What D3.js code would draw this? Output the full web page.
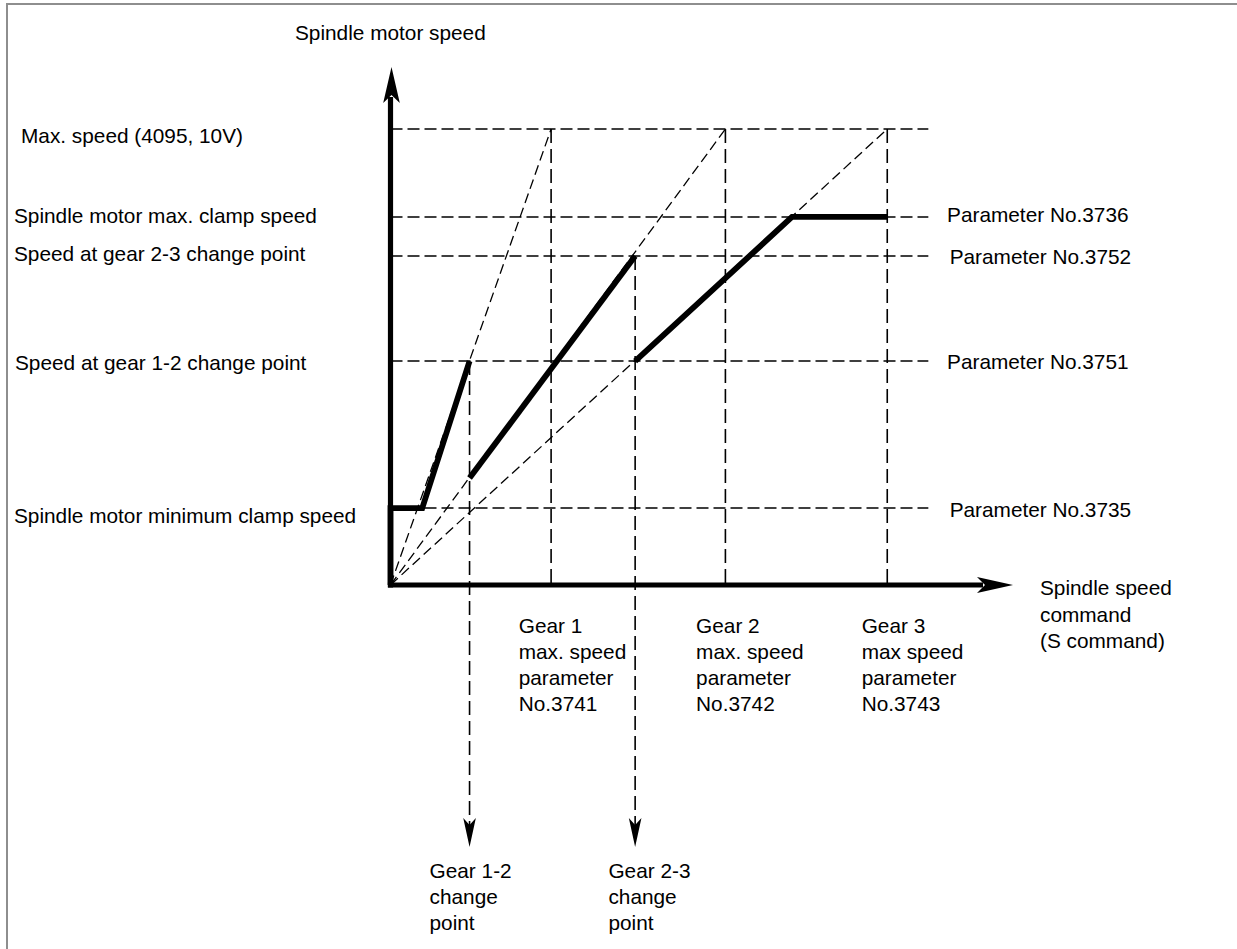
<!DOCTYPE html>
<html><head><meta charset="utf-8">
<script src="https://cdn.jsdelivr.net/npm/d3@7"></script>
<style>
html,body{margin:0;padding:0;background:#fff;}
svg{display:block;}
text{font-family:"Liberation Sans", Arial, Helvetica, sans-serif; font-size:20.8px; fill:#000;}
</style></head><body>
<svg id="chart" width="1237" height="949"></svg>
<script>
// ---------------- data ----------------
// motor speed levels (0..4095 = 0..10V)
const levelNames  = ["Max. speed (4095, 10V)", "Spindle motor max. clamp speed", "Speed at gear 2-3 change point", "Speed at gear 1-2 change point", "Spindle motor minimum clamp speed"];
const levelValues = [4095, 3305, 2954, 2011, 691];
const levelParams = ["", "Parameter No.3736", "Parameter No.3752", "Parameter No.3751", "Parameter No.3735"];
// spindle speed command (S command, % of axis length)
const gearMaxCmd     = [25.8, 53.8, 79.8];
const gearLabelLines = [["Gear 1","max. speed","parameter","No.3741"],["Gear 2","max. speed","parameter","No.3742"],["Gear 3","max speed","parameter","No.3743"]];
const changeCmd      = [12.7, 39.3];
const changeLevel    = [2011, 2954];
const changeLabels   = [["Gear 1-2","change","point"],["Gear 2-3","change","point"]];
// bold output curves [command, motor speed]
const curveGear1 = [[0,0],[0,691],[5.1,691],[12.7,2011]];
const curveGear2 = [[12.7,960],[39.3,2954]];
const curveGear3 = [[39.3,2011],[64.5,3305],[79.8,3305]];
const axisTitles = {y:"Spindle motor speed", x:["Spindle speed","command","(S command)"]};

// ---------------- layout ----------------
const W = 1237, H = 949;
const svg = d3.select("#chart");
const x = d3.scaleLinear().domain([0,100]).range([390.5,1013]);
const y = d3.scaleLinear().domain([0,4095]).range([585,129]);
const gridEnd = 86.4;           // horizontal guides end (command units)
const yAxisTop = 4652;          // arrow tip of the y axis
const changeArrowEnd = -2353;   // tip of the downward arrows
const leftLabelX   = [21,14,14,15,14];
const leftLabelDy  = [13.7,5.7,5,9,15];
const rightLabelDx = [0,18.7,21.3,18.7,21.3];
const rightLabelDy = [0,5.3,8,8.3,8.7];
const gearLabelDx  = [-32.4,-29.3,-25.6];
const changeLabelDx= [-40,-26.7];
const lineH = 26.1;

// frame
svg.append("path").attr("d",`M7,${H} L7,4 L${W},4`).attr("fill","none").attr("stroke","#8e8e8e").attr("stroke-width",2);

const g = svg.append("g");
const hd = "12,5", vd = "14,6", dd = "10,5";

// horizontal dashed guides
g.selectAll(".hg").data(levelValues).join("line")
  .attr("x1",x(0)).attr("x2",x(gridEnd))
  .attr("y1",d=>y(d)).attr("y2",d=>y(d))
  .attr("stroke","#000").attr("stroke-width",1.6).attr("stroke-dasharray",hd);

// vertical dashed at gear max
g.selectAll(".vg").data(gearMaxCmd).join("line")
  .attr("x1",d=>x(d)).attr("x2",d=>x(d))
  .attr("y1",y(4095)).attr("y2",y(0))
  .attr("stroke","#000").attr("stroke-width",1.6).attr("stroke-dasharray",vd);

// diagonal ratio lines
g.selectAll(".dg").data(gearMaxCmd).join("line")
  .attr("x1",x(0)).attr("y1",y(0))
  .attr("x2",d=>x(d)).attr("y2",y(4095))
  .attr("stroke","#000").attr("stroke-width",1.3).attr("stroke-dasharray",dd);

// arrowhead helper
function arrow(tx,ty,dir,L,Wd,notch){
  // dir: unit vector pointing to tip
  const [ux,uy]=dir, px=-uy, py=ux;
  const bx=tx-ux*L, by=ty-uy*L;
  const nx=tx-ux*(L-notch), ny=ty-uy*(L-notch);
  return `M${tx},${ty} L${bx+px*Wd},${by+py*Wd} L${nx},${ny} L${bx-px*Wd},${by-py*Wd} Z`;
}

// change-point vertical dashed with arrows
changeCmd.forEach((c,i)=>{
  const tipY = y(changeArrowEnd);
  g.append("line").attr("x1",x(c)).attr("x2",x(c))
    .attr("y1",y(changeLevel[i])).attr("y2",tipY-22)
    .attr("stroke","#000").attr("stroke-width",1.6).attr("stroke-dasharray",vd);
  g.append("path").attr("d",arrow(x(c),tipY,[0,1],29,6.3,7)).attr("fill","#000");
});

// bold curves
const line = d3.line().x(d=>x(d[0])).y(d=>y(d[1]));
[curveGear1,curveGear2,curveGear3].forEach(c=>{
  g.append("path").attr("d",line(c)).attr("fill","none").attr("stroke","#000")
   .attr("stroke-width",5.8).attr("stroke-linejoin","miter").attr("stroke-linecap","butt");
});

// axes
g.append("line").attr("x1",x(0)).attr("x2",x(0)).attr("y1",y(0)+2.5).attr("y2",y(yAxisTop)+30)
  .attr("stroke","#000").attr("stroke-width",5.2);
g.append("path").attr("d",arrow(x(0)+1,y(yAxisTop),[0,-1],36,8.3,8)).attr("fill","#000");
g.append("line").attr("x1",x(0)-2.6).attr("x2",x(100)-30).attr("y1",y(0)).attr("y2",y(0))
  .attr("stroke","#000").attr("stroke-width",4.8);
g.append("path").attr("d",arrow(x(100),y(0),[1,0],36,8,8)).attr("fill","#000");

// texts
const t = svg.append("g");
t.append("text").attr("x",x(0)-95.5).attr("y",39.5).text(axisTitles.y);
levelNames.forEach((s,i)=>{
  t.append("text").attr("x",leftLabelX[i]).attr("y",y(levelValues[i])+leftLabelDy[i]).text(s);
  if(levelParams[i]) t.append("text").attr("x",x(gridEnd)+rightLabelDx[i]).attr("y",y(levelValues[i])+rightLabelDy[i]).text(levelParams[i]);
});
gearLabelLines.forEach((ls,i)=>{
  ls.forEach((s,j)=>t.append("text").attr("x",x(gearMaxCmd[i])+gearLabelDx[i]).attr("y",y(0)+47.5+j*lineH).text(s));
});
changeLabels.forEach((ls,i)=>{
  ls.forEach((s,j)=>t.append("text").attr("x",x(changeCmd[i])+changeLabelDx[i]).attr("y",y(changeArrowEnd)+31+j*lineH).text(s));
});
axisTitles.x.forEach((s,j)=>t.append("text").attr("x",x(100)+27).attr("y",y(0)+10+j*26.5).text(s));
</script>
</body></html>
